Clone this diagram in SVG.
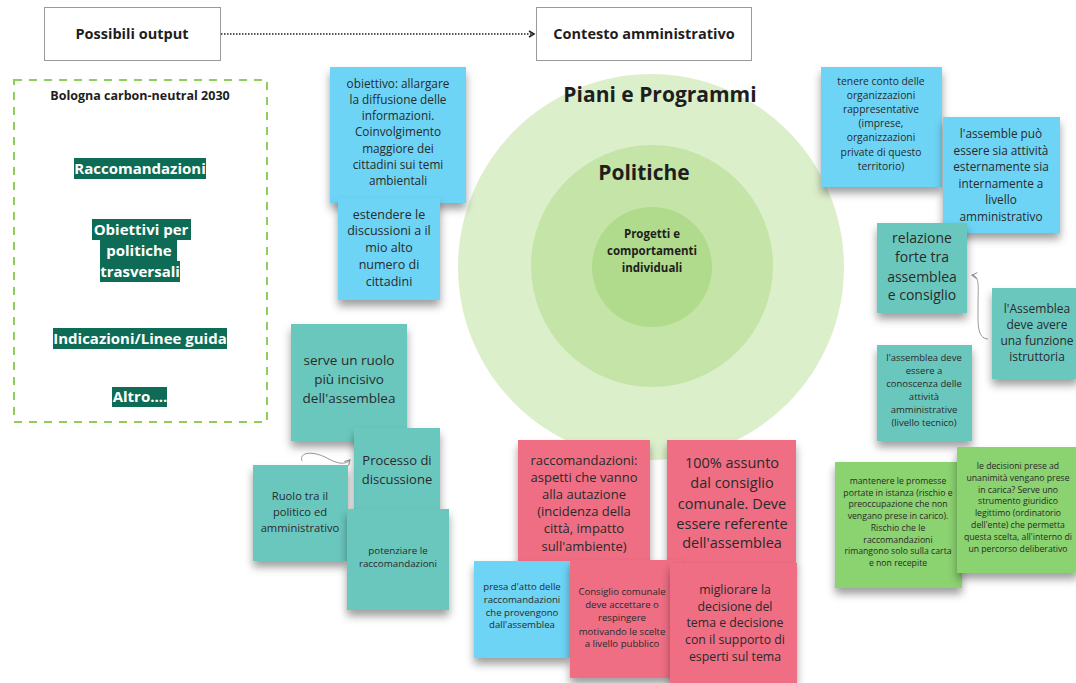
<svg xmlns="http://www.w3.org/2000/svg" width="1076" height="683" viewBox="0 0 1076 683">
<style>
text{font-family:"Open Sans","Liberation Sans",sans-serif;fill:#2a2a2a;text-anchor:middle}
.b{font-weight:700;fill:#1e1e1e}
.lbl{font-weight:700;fill:#fff;font-size:15px}
.lbg{fill:#0e6b55}
.blue{fill:#6dd4f5}
.teal{fill:#6bc7be}
.red{fill:#ef6e84}
.green{fill:#8bd26f}
.note{filter:url(#sh)}
.tb{fill:#fff;stroke:#9a9a9a;stroke-width:1}
</style>
<defs>
<filter id="sh" x="-10%" y="-10%" width="120%" height="135%">
<feDropShadow dx="0" dy="6" stdDeviation="4" flood-color="#000" flood-opacity="0.38"/>
</filter>
<marker id="ah" markerWidth="8" markerHeight="8" refX="6" refY="4" orient="auto" markerUnits="userSpaceOnUse">
<path d="M1,1 L6,4 L1,7" fill="none" stroke="#222" stroke-width="1.5"/>
</marker>
<marker id="ag" markerWidth="8" markerHeight="8" refX="6" refY="4" orient="auto" markerUnits="userSpaceOnUse">
<path d="M1,1 L6,4 L1,7" fill="none" stroke="#888" stroke-width="1"/>
</marker>
</defs>
<rect width="1076" height="683" fill="#fff"/>

<g id="circles">
<circle cx="651" cy="267" r="193" fill="#dcefcb"/>
<circle cx="652" cy="266" r="121" fill="#c5e4a8"/>
<circle cx="652" cy="267" r="60" fill="#b0da8c"/>
<text class="b" x="660" y="102" font-size="21">Piani e Programmi</text>
<text class="b" x="644" y="180" font-size="21">Politiche</text>
<text class="b" font-size="11.5"><tspan x="652" y="238">Progetti e</tspan><tspan x="652" y="255">comportamenti</tspan><tspan x="652" y="272">individuali</tspan></text>
</g>

<g id="possibili-output">
<rect class="tb" x="44.5" y="7.5" width="176" height="53"/>
<text class="b" x="132" y="39" font-size="14.5">Possibili output</text>
</g>
<g id="contesto-amministrativo">
<rect class="tb" x="536.5" y="7.5" width="215" height="53"/>
<text class="b" x="644" y="39" font-size="14.5">Contesto amministrativo</text>
</g>

<g id="bologna">
<rect x="14" y="80" width="253" height="342" fill="none" stroke="#8fcd5c" stroke-width="2" stroke-dasharray="8 7"/>
<text class="b" x="140" y="100" font-size="12.5">Bologna carbon-neutral 2030</text>
<rect class="lbg" x="74" y="158" width="132" height="21"/>
<text class="lbl" x="140" y="174">Raccomandazioni</text>
<rect class="lbg" x="92" y="219" width="99" height="21"/>
<rect class="lbg" x="100" y="240" width="77" height="21"/>
<rect class="lbg" x="100" y="261" width="80" height="21"/>
<text class="lbl"><tspan x="141" y="235">Obiettivi per</tspan><tspan x="139" y="256">politiche</tspan><tspan x="140" y="277">trasversali</tspan></text>
<rect class="lbg" x="53" y="328" width="174" height="21"/>
<text class="lbl" x="140" y="344">Indicazioni/Linee guida</text>
<rect class="lbg" x="112" y="387" width="55" height="20"/>
<text class="lbl" x="140" y="402">Altro....</text>
</g>

<g id="connectors" fill="none">
<path d="M221,34 L534,34" stroke="#222" stroke-width="1.5" stroke-dasharray="1.5 1.5" marker-end="url(#ah)"/>
<path d="M988,339 C977,338 978,325 978,305 C978,287 980,276 972,275" stroke="#999" stroke-width="1" marker-end="url(#ag)"/>
<path d="M302,461 C299,452 312,451 325,457 C336,463 344,466 350,460" stroke="#999" stroke-width="1" marker-end="url(#ag)"/>
</g>

<g id="note-obiettivo">
<rect class="blue note" x="330" y="67" width="136" height="136"/>
<text font-size="11.8"><tspan x="398" y="88">obiettivo: allargare</tspan><tspan x="398" y="104">la diffusione delle</tspan><tspan x="398" y="120">informazioni.</tspan><tspan x="398" y="136">Coinvolgimento</tspan><tspan x="398" y="153">maggiore dei</tspan><tspan x="398" y="169">cittadini sui temi</tspan><tspan x="398" y="185">ambientali</tspan></text>
</g>
<g id="note-estendere">
<rect class="blue note" x="338" y="198" width="102" height="102"/>
<text font-size="12.5"><tspan x="389" y="218.5">estendere le</tspan><tspan x="389" y="235">discussioni a il</tspan><tspan x="389" y="251.5">mio alto</tspan><tspan x="389" y="268.5">numero di</tspan><tspan x="389" y="285.5">cittadini</tspan></text>
</g>

<g id="note-tenere-conto">
<rect class="blue note" x="821" y="67" width="121" height="120"/>
<text font-size="10.3"><tspan x="881" y="84.5">tenere conto delle</tspan><tspan x="881" y="98.7">organizzazioni</tspan><tspan x="881" y="112.9">rappresentative</tspan><tspan x="881" y="127.1">(imprese,</tspan><tspan x="881" y="141.3">organizzazioni</tspan><tspan x="881" y="155.5">private di questo</tspan><tspan x="881" y="169.7">territorio)</tspan></text>
</g>
<g id="note-assemble-puo">
<rect class="blue note" x="943" y="117" width="117" height="116"/>
<text font-size="11.8"><tspan x="1001" y="138">l'assemble può</tspan><tspan x="1001" y="154.5">essere sia attività</tspan><tspan x="1001" y="171">esternamente sia</tspan><tspan x="1001" y="187.5">internamente a</tspan><tspan x="1001" y="204">livello</tspan><tspan x="1001" y="220.5">amministrativo</tspan></text>
</g>
<g id="note-relazione">
<rect class="teal note" x="877" y="223" width="90" height="90"/>
<text font-size="14"><tspan x="922" y="243">relazione</tspan><tspan x="922" y="262">forte tra</tspan><tspan x="922" y="281.5">assemblea</tspan><tspan x="922" y="300">e consiglio</tspan></text>
</g>
<g id="note-funzione-istruttoria">
<rect class="teal note" x="992" y="288" width="86" height="91"/>
<text font-size="12"><tspan x="1037" y="312.5">l'Assemblea</tspan><tspan x="1037" y="328.5">deve avere</tspan><tspan x="1037" y="345">una funzione</tspan><tspan x="1037" y="360.5">istruttoria</tspan></text>
</g>
<g id="note-conoscenza">
<rect class="teal note" x="877" y="345" width="95" height="96"/>
<text font-size="9.5"><tspan x="924" y="360.5">l'assemblea deve</tspan><tspan x="924" y="373.5">essere a</tspan><tspan x="924" y="386.8">conoscenza delle</tspan><tspan x="924" y="400">attività</tspan><tspan x="924" y="413">amministrative</tspan><tspan x="924" y="426">(livello tecnico)</tspan></text>
</g>

<g id="note-ruolo-incisivo">
<rect class="teal note" x="291" y="324" width="116" height="117"/>
<text font-size="13.5"><tspan x="349" y="365">serve un ruolo</tspan><tspan x="349" y="384">più incisivo</tspan><tspan x="349" y="403">dell'assemblea</tspan></text>
</g>
<g id="note-processo">
<rect class="teal note" x="354" y="428" width="86" height="100"/>
<text font-size="13"><tspan x="397" y="465">Processo di</tspan><tspan x="397" y="483.5">discussione</tspan></text>
</g>
<g id="note-ruolo-politico">
<rect class="teal note" x="253" y="465" width="95" height="96"/>
<text font-size="11.2"><tspan x="300" y="500">Ruolo tra il</tspan><tspan x="300" y="516">politico ed</tspan><tspan x="300" y="531.5">amministrativo</tspan></text>
</g>
<g id="note-potenziare">
<rect class="teal note" x="347" y="509" width="102" height="101"/>
<text font-size="9.8"><tspan x="398" y="553.5">potenziare le</tspan><tspan x="398" y="566.5">raccomandazioni</tspan></text>
</g>

<g id="note-raccomandazioni">
<rect class="red note" x="518" y="440" width="132" height="125"/>
<text font-size="13"><tspan x="584" y="464.6">raccomandazioni:</tspan><tspan x="584" y="481.6">aspetti che vanno</tspan><tspan x="584" y="498.6">alla autazione</tspan><tspan x="584" y="515.6">(incidenza della</tspan><tspan x="584" y="532.6">città, impatto</tspan><tspan x="584" y="550.6">sull'ambiente)</tspan></text>
</g>
<g id="note-assunto">
<rect class="red note" x="667" y="440" width="129" height="125"/>
<text font-size="14.5"><tspan x="732" y="468">100% assunto</tspan><tspan x="732" y="488">dal consiglio</tspan><tspan x="732" y="509">comunale. Deve</tspan><tspan x="732" y="529">essere referente</tspan><tspan x="732" y="548">dell'assemblea</tspan></text>
</g>
<g id="note-presa-atto">
<rect class="blue note" x="474" y="561" width="96" height="97"/>
<text font-size="9.6"><tspan x="522" y="590.4">presa d'atto delle</tspan><tspan x="522" y="603.4">raccomandazioni</tspan><tspan x="522" y="616.4">che provengono</tspan><tspan x="522" y="628.4">dall'assemblea</tspan></text>
</g>
<g id="note-consiglio-comunale">
<rect class="red note" x="570" y="560" width="113" height="118"/>
<text font-size="9.6"><tspan x="622" y="595.4">Consiglio comunale</tspan><tspan x="622" y="608.4">deve accettare o</tspan><tspan x="622" y="621.4">respingere</tspan><tspan x="622" y="635.4">motivando le scelte</tspan><tspan x="622" y="647.4">a livello pubblico</tspan></text>
</g>
<g id="note-migliorare">
<rect class="red note" x="670" y="563" width="127" height="120"/>
<text font-size="12.3"><tspan x="735" y="594.4">migliorare la</tspan><tspan x="735" y="611.4">decisione del</tspan><tspan x="735" y="627.4">tema e decisione</tspan><tspan x="735" y="644.4">con il supporto di</tspan><tspan x="735" y="661.4">esperti sul tema</tspan></text>
</g>

<g id="note-mantenere">
<rect class="green note" x="835" y="462" width="127" height="126"/>
<text font-size="8.7"><tspan x="898" y="484">mantenere le promesse</tspan><tspan x="898" y="495.7">portate in istanza (rischio e</tspan><tspan x="898" y="507.4">preoccupazione che non</tspan><tspan x="898" y="519.1">vengano prese in carico).</tspan><tspan x="898" y="530.8">Rischio che le</tspan><tspan x="898" y="542.5">raccomandazioni</tspan><tspan x="898" y="554.2">rimangono solo sulla carta</tspan><tspan x="898" y="565.9">e non recepite</tspan></text>
</g>
<g id="note-decisioni">
<rect class="green note" x="957" y="447" width="121" height="126"/>
<text font-size="8.7"><tspan x="1018" y="469">le decisioni prese ad</tspan><tspan x="1018" y="480.8">unanimità vengano prese</tspan><tspan x="1018" y="492.6">in carica? Serve uno</tspan><tspan x="1018" y="504.4">strumento giuridico</tspan><tspan x="1018" y="516.2">legittimo (ordinatorio</tspan><tspan x="1018" y="528">dell'ente) che permetta</tspan><tspan x="1018" y="539.8">questa scelta, all'interno di</tspan><tspan x="1018" y="551.6">un percorso deliberativo</tspan></text>
</g>
</svg>
